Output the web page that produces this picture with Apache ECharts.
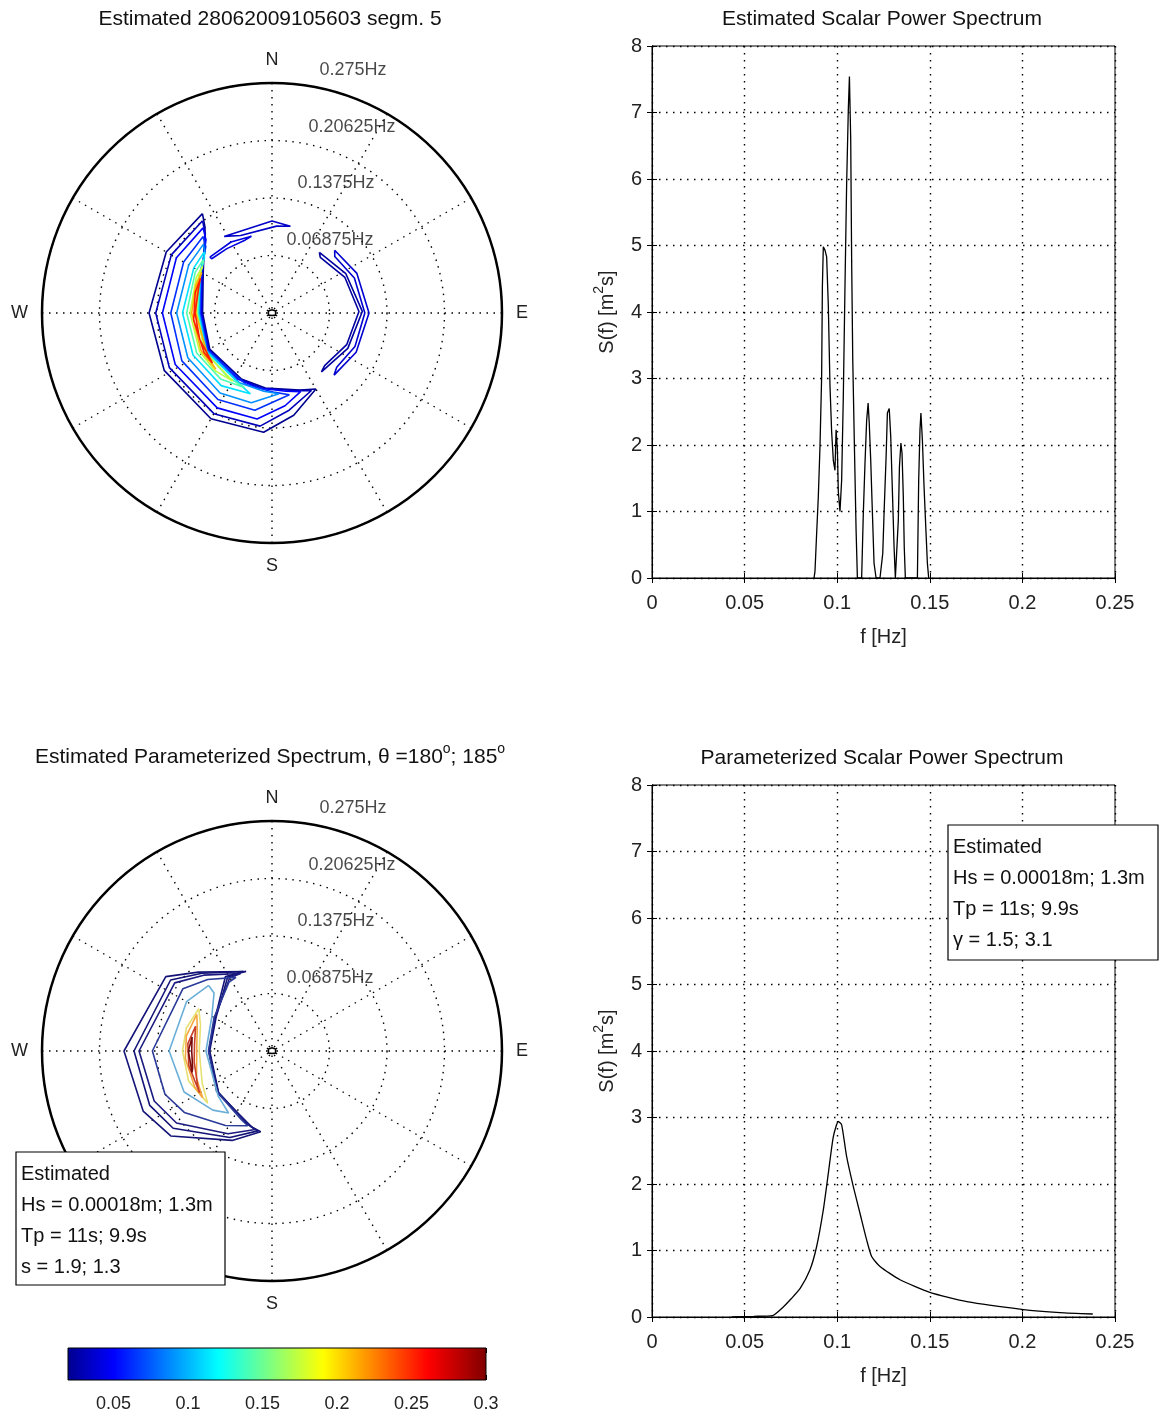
<!DOCTYPE html>
<html>
<head>
<meta charset="utf-8">
<script src="https://cdn.jsdelivr.net/npm/echarts@6/dist/echarts.min.js"></script>
<style>
  html, body { margin: 0; padding: 0; background: #fff; }
  #main { width: 1164px; height: 1416px; }
</style>
</head>
<body>
<div id="main"></div>
<script>
// estimated scalar spectrum (top right)
var estFreq = [0.0875, 0.0880, 0.0889, 0.0898, 0.0907, 0.0916, 0.0920, 0.0925, 0.0934, 0.0943, 0.0952, 0.0961, 0.0970, 0.0979, 0.0988, 0.0994, 0.1001, 0.1006, 0.1015, 0.1024, 0.1033, 0.1042, 0.1051, 0.1060, 0.1066, 0.1073, 0.1078, 0.1084, 0.1093, 0.1102, 0.1109,
  0.1132, 0.1141, 0.1150, 0.1159, 0.1167, 0.1173, 0.1181, 0.1189, 0.1199, 0.1210,
  0.1231, 0.1246, 0.1253, 0.1264, 0.1271, 0.1281, 0.1289, 0.1299, 0.1307, 0.1314,
  0.1321, 0.1330, 0.1336, 0.1344, 0.1350, 0.1357, 0.1362, 0.1368,
  0.1433, 0.1440, 0.1447, 0.1452, 0.1460, 0.1469, 0.1479, 0.1487, 0.1494];
var estS = [0, 0.1, 0.67, 1.22, 1.97, 3.03, 4.38, 4.98, 4.93, 4.83, 4.1, 2.9, 2.2, 1.77, 1.62, 2.23, 1.93, 1.3, 1.0, 1.47, 2.73, 4.38, 5.93, 7.04, 7.54, 6.59, 4.78, 3.28, 1.97, 0.72, 0,
  0, 0.97, 1.72, 2.37, 2.63, 2.33, 1.77, 1.07, 0.22, 0,
  0, 0.37, 0.97, 1.82, 2.48, 2.55, 2.13, 1.22, 0.47, 0,
  0, 0.87, 1.67, 2.03, 1.88, 1.22, 0.47, 0,
  0, 1.47, 2.23, 2.48, 2.07, 1.37, 0.72, 0.22, 0];

// parameterized scalar spectrum (bottom right)
var parFreq = [0.043, 0.055, 0.065, 0.0709, 0.075, 0.080, 0.0853, 0.0889, 0.0925, 0.0952, 0.0979, 0.1006, 0.1024, 0.1051, 0.1087, 0.1123, 0.1159, 0.1186, 0.1231, 0.1339, 0.150, 0.170, 0.1996, 0.2203, 0.238];
var parS = [0.0, 0.01, 0.02, 0.15, 0.27, 0.43, 0.71, 1.06, 1.61, 2.16, 2.71, 2.94, 2.89, 2.41, 1.96, 1.56, 1.16, 0.91, 0.76, 0.56, 0.37, 0.23, 0.115, 0.065, 0.045];

// polar grid
var ringTicks = [0.06875, 0.1375, 0.20625, 0.275];
var compassLabels = { 0: 'N', 90: 'E', 180: 'S', 270: 'W' };
var ringLabelDir = 11;

// colour bar
var cbarRange = [0.0195, 0.3];
var cbarTicks = [0.05, 0.1, 0.15, 0.2, 0.25, 0.3];

// contour lines, [frequency Hz, direction deg]
var estContours = [
  [[0.145, 325], [0.146, 300], [0.147, 270], [0.146, 242], [0.146, 210], [0.143, 184], [0.125, 168], [0.105, 150], [0.098, 160], [0.09, 185], [0.087, 205], [0.086, 240], [0.083, 270], [0.095, 300], [0.13, 322]],
  [[0.138, 323], [0.139, 300], [0.139, 270], [0.139, 242], [0.139, 210], [0.136, 186], [0.118, 170], [0.104, 153], [0.097, 163], [0.091, 187], [0.088, 206], [0.087, 240], [0.084, 270], [0.096, 300], [0.124, 320]],
  [[0.131, 321], [0.132, 300], [0.131, 270], [0.131, 242], [0.131, 210], [0.128, 188], [0.112, 172], [0.1, 160], [0.095, 170], [0.091, 190], [0.089, 207], [0.088, 240], [0.085, 270], [0.097, 300], [0.118, 318]],
  [[0.123, 318], [0.122, 300], [0.121, 270], [0.122, 242], [0.122, 212], [0.118, 190], [0.1, 168], [0.095, 178], [0.091, 200], [0.089, 240], [0.086, 270], [0.098, 300], [0.112, 315]],
  [[0.116, 315], [0.115, 300], [0.114, 270], [0.114, 242], [0.114, 213], [0.11, 193], [0.097, 175], [0.094, 186], [0.092, 205], [0.09, 240], [0.087, 270], [0.099, 300], [0.108, 312]],
  [[0.109, 312], [0.108, 300], [0.107, 270], [0.107, 242], [0.106, 215], [0.1, 195], [0.093, 205], [0.091, 240], [0.088, 270], [0.099, 300], [0.104, 309]],
  [[0.104, 308], [0.104, 298], [0.102, 270], [0.102, 242], [0.1, 218], [0.095, 200], [0.093, 215], [0.092, 240], [0.089, 270], [0.098, 298], [0.101, 305]],
  [[0.1, 304], [0.1, 295], [0.098, 270], [0.098, 242], [0.097, 225], [0.094, 210], [0.093, 240], [0.09, 270], [0.097, 292]],
  [[0.097, 300], [0.097, 290], [0.096, 270], [0.096, 242], [0.095, 225], [0.093, 235], [0.091, 270], [0.095, 290]],
  [[0.095, 296], [0.095, 285], [0.094, 265], [0.094, 240], [0.093, 230], [0.092, 250], [0.092, 270], [0.093, 290]],
  [[0.108, 328], [0.11, 0], [0.106, 12], [0.104, 3], [0.1, 338]],
  [[0.1, 312], [0.098, 330], [0.095, 345], [0.093, 340], [0.094, 325], [0.097, 312]],
  [[0.106, 45], [0.112, 65], [0.116, 90], [0.111, 115], [0.105, 135], [0.101, 130], [0.107, 112], [0.111, 90], [0.107, 67], [0.101, 48]],
  [[0.092, 38], [0.1, 62], [0.108, 89], [0.1, 115], [0.092, 140], [0.089, 135], [0.097, 113], [0.104, 89], [0.097, 64], [0.088, 41]],
  [[0.004, 0], [0.005, 60], [0.005, 120], [0.003, 180], [0.005, 240], [0.005, 300]]
];
var estColors = ['#00008f', '#0000b8', '#0000ff', '#0030ff', '#0090ff', '#00e0ff', '#50ffb0', '#c0ff40', '#ffb000', '#ff2000', '#0000c8', '#0000e0', '#0000d0', '#0000a0', '#000000'];

var parContours = [
  [[0.100, 342], [0.129, 317], [0.155, 305], [0.177, 270], [0.170, 245], [0.158, 230], [0.117, 204], [0.0975, 188], [0.094, 195], [0.082, 231], [0.0756, 270], [0.079, 301], [0.105, 328]],
  [[0.101, 340], [0.125, 318], [0.148, 305], [0.165, 270], [0.160, 246], [0.150, 232], [0.115, 206], [0.097, 190], [0.093, 197], [0.081, 232], [0.0745, 270], [0.078, 301], [0.103, 329]],
  [[0.1, 338], [0.122, 318], [0.142, 305], [0.159, 270], [0.153, 247], [0.143, 233], [0.112, 208], [0.096, 192], [0.092, 199], [0.081, 233], [0.0752, 270], [0.079, 300], [0.101, 330]],
  [[0.098, 334], [0.115, 318], [0.13, 305], [0.143, 270], [0.138, 248], [0.128, 235], [0.105, 212], [0.094, 198], [0.09, 204], [0.082, 234], [0.076, 270], [0.08, 300], [0.097, 328]],
  [[0.109, 316], [0.118, 300], [0.123, 270], [0.116, 245], [0.1, 225], [0.0905, 215], [0.084, 230], [0.079, 270], [0.083, 300], [0.098, 315]],
  [[0.101, 300], [0.106, 285], [0.107, 270], [0.106, 250], [0.099, 231], [0.092, 245], [0.087, 270], [0.091, 290]],
  [[0.1, 296], [0.104, 280], [0.104, 265], [0.102, 245], [0.1, 236], [0.096, 250], [0.09, 270], [0.094, 288]],
  [[0.096, 288], [0.101, 275], [0.101, 260], [0.1, 240], [0.098, 245], [0.094, 262], [0.093, 275]],
  [[0.097, 280], [0.1, 270], [0.099, 255], [0.097, 258], [0.096, 270]],
  [[0.004, 0], [0.005, 60], [0.005, 120], [0.003, 180], [0.005, 240], [0.005, 300]]
];
var parColors = ['#141478', '#141478', '#1a1a80', '#2a3a98', '#6aaed8', '#e6e070', '#f5a640', '#c8402a', '#7a0a0a', '#000000'];

var FONT = 'Liberation Sans';
var jetStops = [
  { offset: 0, color: '#00008f' },
  { offset: 0.11, color: '#0000ff' },
  { offset: 0.36, color: '#00ffff' },
  { offset: 0.61, color: '#ffff00' },
  { offset: 0.86, color: '#ff0000' },
  { offset: 1, color: '#800000' }
];
var dots = { color: '#000', width: 1.4, type: [1.5, 5.5] };

function zip(a, b) {
  return a.map(function (v, i) { return [v, b[i]]; });
}

function contourSeries(loops, colors, polarIndex) {
  return loops.map(function (pts, i) {
    return {
      type: 'line', coordinateSystem: 'polar', polarIndex: polarIndex,
      data: pts.concat([pts[0]]), symbol: 'none', silent: true, z: 3,
      lineStyle: { color: colors[i], width: 1.6 }
    };
  });
}

function ringLabelSeries(polarIndex) {
  return {
    type: 'scatter', coordinateSystem: 'polar', polarIndex: polarIndex, silent: true,
    data: ringTicks.map(function (r) { return [r, ringLabelDir]; }),
    symbolSize: 1, itemStyle: { color: 'rgba(0,0,0,0)' }, z: 4,
    label: {
      show: true, position: 'right', distance: 3, offset: [0, -17],
      color: '#1a1a1a', fontSize: 18, fontFamily: FONT,
      formatter: function (p) { return p.value[0] + 'Hz'; }
    }
  };
}

function angleAxis(i) {
  return {
    polarIndex: i, type: 'value', min: 0, max: 360, interval: 30,
    startAngle: 90, clockwise: true,
    axisLine: { lineStyle: { color: '#000', width: 2.5 } },
    axisTick: { show: false },
    axisLabel: {
      margin: 14, color: '#222', fontSize: 18, fontFamily: FONT,
      formatter: function (v) { return compassLabels[v] || ''; }
    },
    splitLine: { show: true, lineStyle: dots }
  };
}

function radiusAxis(i) {
  return {
    polarIndex: i, type: 'value', min: 0, max: 0.275, interval: 0.06875,
    axisLine: { show: false }, axisTick: { show: false }, axisLabel: { show: false },
    splitLine: { show: true, lineStyle: dots }
  };
}

function freqAxis(g) {
  return {
    gridIndex: g, type: 'value', min: 0, max: 0.25, interval: 0.05,
    name: 'f [Hz]', nameLocation: 'middle', nameGap: 49,
    nameTextStyle: { fontSize: 20, color: '#222', fontFamily: FONT },
    axisLine: { lineStyle: { color: '#000' } },
    axisTick: { inside: true, length: 5, lineStyle: { color: '#000' } },
    axisLabel: { margin: 15, fontSize: 20, color: '#222', fontFamily: FONT },
    splitLine: { show: true, lineStyle: dots }
  };
}

function sAxis(g) {
  return {
    gridIndex: g, type: 'value', min: 0, max: 8, interval: 1,
    name: 'S(f) [m{sup|2}s]', nameLocation: 'middle', nameGap: 30,
    nameTextStyle: {
      fontSize: 20, color: '#222', fontFamily: FONT,
      rich: { sup: { fontSize: 14, fontFamily: FONT, color: '#222', padding: [0, 0, 16, 0] } }
    },
    axisLine: { lineStyle: { color: '#000' } },
    axisTick: { inside: true, length: 5, lineStyle: { color: '#000' } },
    axisLabel: { margin: 10, fontSize: 20, color: '#222', fontFamily: FONT },
    splitLine: { show: true, lineStyle: dots }
  };
}

function mirrorX(g, min, max, interval) {
  return {
    gridIndex: g, type: 'value', position: 'top', min: min, max: max, interval: interval,
    axisLine: { lineStyle: { color: '#000' } },
    axisTick: { inside: true, length: 5, lineStyle: { color: '#000' } },
    axisLabel: { show: false }, splitLine: { show: false }
  };
}

function mirrorY(g) {
  return {
    gridIndex: g, type: 'value', position: 'right', min: 0, max: 8, interval: 1,
    axisLine: { lineStyle: { color: '#000' } },
    axisTick: { inside: true, length: 5, lineStyle: { color: '#000' } },
    axisLabel: { show: false }, splitLine: { show: false }
  };
}

function titleText(x, y, text) {
  return {
    type: 'text', x: x, y: y, z: 50,
    style: {
      text: text, fontSize: 21, fontFamily: FONT, fill: '#111',
      align: 'center', verticalAlign: 'middle',
      rich: { sup: { fontSize: 14, fontFamily: FONT, fill: '#111', padding: [0, 0, 16, 0] } }
    }
  };
}

function infoBox(x, y, w, h, lines) {
  return {
    type: 'group', x: x, y: y, z: 100,
    children: [
      { type: 'rect', z: 100, shape: { x: 0, y: 0, width: w, height: h }, style: { fill: '#fff', stroke: '#000', lineWidth: 1.2 } },
      { type: 'text', z: 101, x: 5, y: 6.5, style: { text: lines.join('\n'), fontSize: 20, lineHeight: 31, fontFamily: FONT, fill: '#111', align: 'left', verticalAlign: 'top' } }
    ]
  };
}

var chart = echarts.init(document.getElementById('main'));

var series = [];
series = series.concat(contourSeries(estContours, estColors, 0));
series = series.concat(contourSeries(parContours, parColors, 1));
series.push(ringLabelSeries(0));
series.push(ringLabelSeries(1));
series.push({
  type: 'line', xAxisIndex: 0, yAxisIndex: 0, data: zip(estFreq, estS),
  symbol: 'none', silent: true, lineStyle: { color: '#000', width: 1.3 }
});
series.push({
  type: 'line', xAxisIndex: 2, yAxisIndex: 2, data: zip(parFreq, parS), smooth: 0.2,
  symbol: 'none', silent: true, lineStyle: { color: '#000', width: 1.3 }
});
series.push({
  type: 'custom', xAxisIndex: 4, yAxisIndex: 4, silent: true,
  data: [[cbarRange[0], cbarRange[1]]],
  renderItem: function (params, api) {
    var p0 = api.coord([api.value(0), 1]);
    var p1 = api.coord([api.value(1), 0]);
    return {
      type: 'rect',
      shape: { x: p0[0], y: p0[1], width: p1[0] - p0[0], height: p1[1] - p0[1] },
      style: { fill: new echarts.graphic.LinearGradient(0, 0, 1, 0, jetStops), stroke: '#000', lineWidth: 1 }
    };
  }
});

var option = {
  animation: false,
  backgroundColor: '#fff',
  textStyle: { fontFamily: FONT },
  polar: [
    { center: [272, 313], radius: 230 },
    { center: [272, 1051], radius: 230 }
  ],
  angleAxis: [angleAxis(0), angleAxis(1)],
  radiusAxis: [radiusAxis(0), radiusAxis(1)],
  grid: [
    { left: 652, top: 46, width: 463, height: 532, show: true, borderColor: '#000', borderWidth: 1 },
    { left: 652, top: 785, width: 463, height: 532, show: true, borderColor: '#000', borderWidth: 1 },
    { left: 68, top: 1348, width: 418, height: 32 }
  ],
  xAxis: [
    freqAxis(0), mirrorX(0, 0, 0.25, 0.05),
    freqAxis(1), mirrorX(1, 0, 0.25, 0.05),
    {
      gridIndex: 2, type: 'value', min: cbarRange[0], max: cbarRange[1],
      axisLine: { show: false },
      axisTick: { inside: true, length: 5, customValues: cbarTicks, lineStyle: { color: '#000' } },
      axisLabel: { margin: 15, fontSize: 18, color: '#222', fontFamily: FONT, customValues: cbarTicks },
      splitLine: { show: false }
    },
    {
      gridIndex: 2, type: 'value', position: 'top', min: cbarRange[0], max: cbarRange[1],
      axisLine: { show: false },
      axisTick: { inside: true, length: 5, customValues: cbarTicks, lineStyle: { color: '#000' } },
      axisLabel: { show: false }, splitLine: { show: false }
    }
  ],
  yAxis: [
    sAxis(0), mirrorY(0),
    sAxis(1), mirrorY(1),
    { gridIndex: 2, type: 'value', min: 0, max: 1, show: false }
  ],
  graphic: [
    titleText(270, 19, 'Estimated 28062009105603 segm. 5'),
    titleText(882, 19, 'Estimated Scalar Power Spectrum'),
    titleText(270, 757, 'Estimated Parameterized Spectrum, \u03b8 =180{sup|o}; 185{sup|o}'),
    titleText(882, 758, 'Parameterized Scalar Power Spectrum'),
    infoBox(16, 1152, 209, 133, ['Estimated', 'Hs = 0.00018m; 1.3m', 'Tp = 11s; 9.9s', 's = 1.9; 1.3']),
    infoBox(948, 825, 210, 135, ['Estimated', 'Hs = 0.00018m; 1.3m', 'Tp = 11s; 9.9s', '\u03b3 = 1.5; 3.1'])
  ],
  series: series
};

chart.setOption(option);
</script>
</body>
</html>
